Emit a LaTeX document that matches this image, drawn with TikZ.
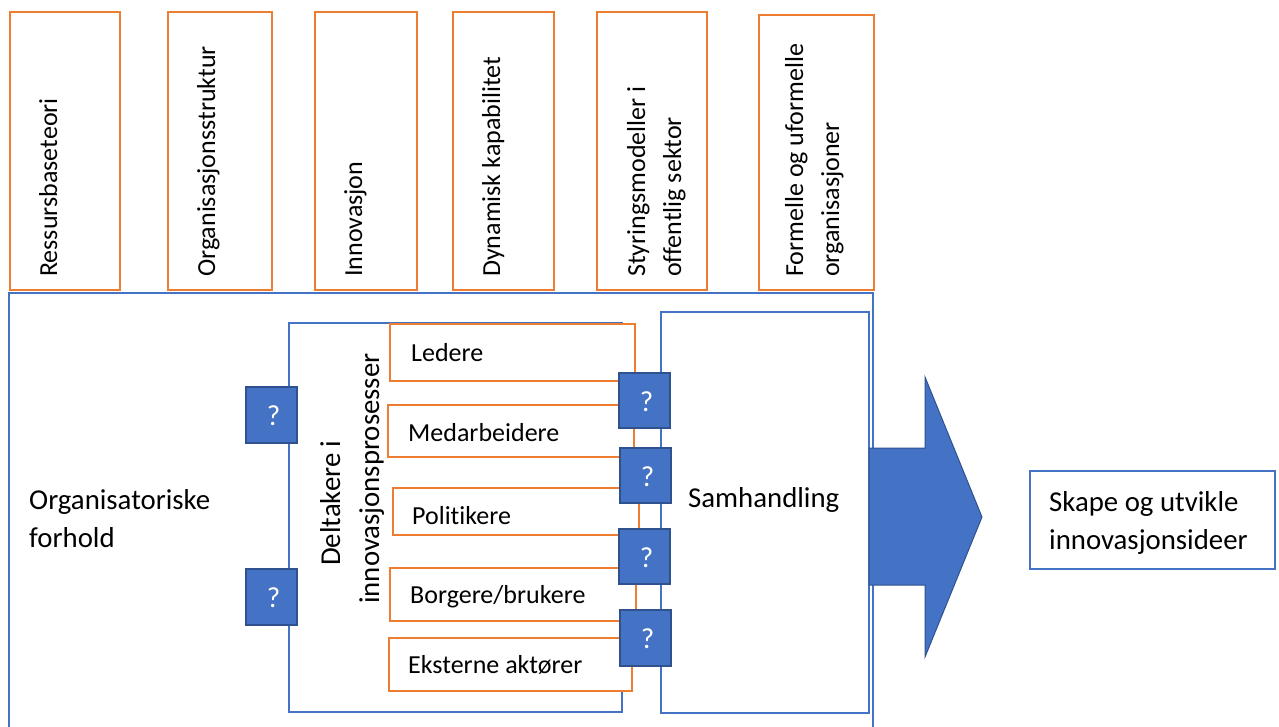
\documentclass[tikz,border=0pt]{standalone}
\usepackage{fontspec}
\setmainfont{Carlito}[Ligatures=NoCommon]
\usetikzlibrary{fit}
\definecolor{accOrange}{HTML}{ED7D31}
\definecolor{accBlue}{HTML}{4472C4}
\definecolor{accDark}{HTML}{2F528F}
\newcommand{\smallfs}{\fontsize{26}{36}\selectfont}
\newcommand{\largefs}{\fontsize{28.8}{38.5}\selectfont}
\newcommand{\qfs}{\fontsize{29}{34}\selectfont}
\begin{document}
\begin{tikzpicture}[x=1pt,y=-1pt,
  font=\smallfs,
  obox/.style={draw=accOrange, line width=2.4pt, fill=white, inner sep=0pt, outer sep=0pt},
  bbox/.style={draw=accBlue, line width=2.2pt, fill=white, inner sep=0pt, outer sep=0pt},
  qbox/.style={draw=accDark, line width=2.3pt, fill=accBlue, inner sep=0pt, outer sep=0pt},
  qmark/.style={anchor=base, inner sep=0pt, text=white, font=\qfs},
  vtext/.style={rotate=90, anchor=north west, inner sep=0pt, align=left},
  htext/.style={anchor=north west, inner sep=0pt, align=left, font=\largefs},
  lbl/.style={anchor=base west, inner sep=0pt},
  biglbl/.style={anchor=base west, inner sep=0pt, font=\largefs},
  vlbl/.style={rotate=90, anchor=base west, inner sep=0pt, font=\largefs},
]
\clip (0,0) rectangle (1279,727);
\fill[white] (0,0) rectangle (1279,727);

% outer frame: organisational conditions
\node[bbox, fit={(9,293) (873,745)}] (org) {};
\node[htext] (orgtxt) at (29,482.05) {\strut Organisatoriske\\\strut forhold};

% theory boxes along the top
\node[obox, fit={(10,12) (120,290)}] (th1) {};
\node[vtext] (tt1) at (31.8,277) {\strut Ressursbaseteori};
\node[obox, fit={(168,12) (272,290)}] (th2) {};
\node[vtext] (tt2) at (189.8,277) {\strut Organisasjonsstruktur};
\node[obox, fit={(315,12) (417,290)}] (th3) {};
\node[vtext] (tt3) at (336.8,277) {\strut Innovasjon};
\node[obox, fit={(453,12) (554,290)}] (th4) {};
\node[vtext] (tt4) at (474.8,277) {\strut Dynamisk kapabilitet};
\node[obox, fit={(597,12) (707,290)}] (th5) {};
\node[vtext] (tt5) at (619.8,277) {\strut Styringsmodeller i\\\strut offentlig sektor};
\node[obox, fit={(759,15) (874,290)}] (th6) {};
\node[vtext] (tt6) at (777.8,277) {\strut Formelle og uformelle\\\strut organisasjoner};

% participants in innovation processes
\node[bbox, fit={(289,323) (622,712)}] (dlt) {};
\node[vlbl] (dltA) at (340,566) {Deltakere i};
\node[vlbl] (dltB) at (379,604) {innovasjonsprosesser};

\node[obox, fit={(390,324) (635,381)}] (p1) {};
\node[lbl] (p1t) at (411,361) {Ledere};
\node[obox, fit={(388,405) (634,457)}] (p2) {};
\node[lbl] (p2t) at (408,441) {Medarbeidere};
\node[obox, fit={(393,488) (639,535)}] (p3) {};
\node[lbl] (p3t) at (412,524) {Politikere};
\node[obox, fit={(390,568) (636,621)}] (p4) {};
\node[lbl] (p4t) at (410,603) {Borgere/brukere};
\node[obox, fit={(389,638) (632,691)}] (p5) {};
\node[lbl] (p5t) at (408,673) {Eksterne aktører};

% interaction
\node[bbox, fit={(661,312) (869,713)}] (sam) {};
\node[biglbl] (samt) at (688,507) {Samhandling};

% open questions on the borders
\node[qbox, fit={(246,387) (297,443)}] (qa) {};
\node[qbox, fit={(246,569) (297,625)}] (qb) {};
\node[qbox, fit={(619,373) (670,428)}] (q1) {};
\node[qbox, fit={(620,448) (671,503)}] (q2) {};
\node[qbox, fit={(619,529) (670,584)}] (q3) {};
\node[qbox, fit={(620,610) (671,666)}] (q4) {};
\foreach \q in {qa,qb,q1,q2,q3,q4}
  \node[qmark] (\q m) at ([xshift=2pt,yshift=-10.5pt]\q.center) {?};

% block arrow towards the outcome
\filldraw[fill=accBlue, draw=accDark, line width=1pt, line join=miter]
  (869,448) -- (925,448) -- (925,377) -- (982,517) -- (925,657) -- (925,585) -- (869,585) -- cycle;

% outcome
\node[bbox, fit={(1030,471) (1275,569)}] (out) {};
\node[htext] (outt) at (1049,484.05) {\strut Skape og utvikle\\\strut innovasjonsideer};
\end{tikzpicture}
\end{document}
